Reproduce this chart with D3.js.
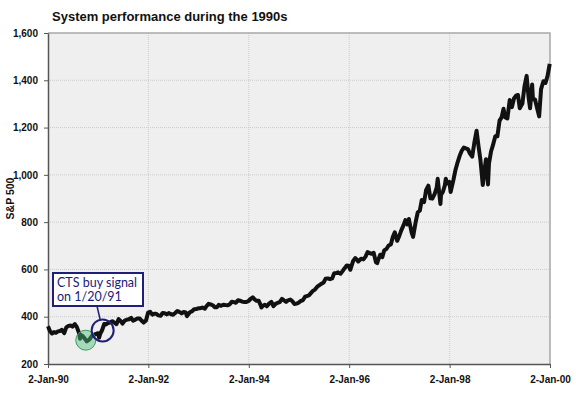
<!DOCTYPE html>
<html>
<head>
<meta charset="utf-8">
<script src="https://cdn.jsdelivr.net/npm/d3@7"></script>
<style>
  body { margin: 0; background: #fff; }
  .axis text { font-family: Arial, "Liberation Sans", sans-serif; font-size: 10px; font-weight: bold; fill: #111; }
  .axis path, .axis line { stroke: #555; }
  .grid line { stroke: #cbcbcb; stroke-dasharray: 1,1; }
</style>
</head>
<body>
<div id="chart"></div>
<script>
// S&P 500 levels (roughly twice a month)
var dates = [
 "1990-01-02","1990-01-15","1990-01-31","1990-02-15","1990-02-28","1990-03-15","1990-03-30","1990-04-13","1990-04-30","1990-05-15","1990-05-31","1990-06-15","1990-06-29","1990-07-16","1990-07-31","1990-08-15","1990-08-23","1990-08-31","1990-09-14","1990-09-28","1990-10-11","1990-10-31","1990-11-15","1990-11-30","1990-12-14","1990-12-31",
 "1991-01-09","1991-01-17","1991-01-31","1991-02-15","1991-02-28","1991-03-15","1991-03-28","1991-04-15","1991-04-30","1991-05-15","1991-05-31","1991-06-14","1991-06-28","1991-07-15","1991-07-31","1991-08-15","1991-08-30","1991-09-13","1991-09-30","1991-10-15","1991-10-31","1991-11-15","1991-11-29","1991-12-16","1991-12-31",
 "1992-01-15","1992-01-31","1992-02-14","1992-02-28","1992-03-13","1992-03-31","1992-04-15","1992-04-30","1992-05-15","1992-05-29","1992-06-15","1992-06-30","1992-07-15","1992-07-31","1992-08-14","1992-08-31","1992-09-15","1992-09-30","1992-10-09","1992-10-30","1992-11-13","1992-11-30","1992-12-15","1992-12-31",
 "1993-01-15","1993-01-29","1993-02-16","1993-02-26","1993-03-15","1993-03-31","1993-04-15","1993-04-30","1993-05-14","1993-05-28","1993-06-15","1993-06-30","1993-07-15","1993-07-30","1993-08-16","1993-08-31","1993-09-15","1993-09-30","1993-10-15","1993-10-29","1993-11-15","1993-11-30","1993-12-15","1993-12-31",
 "1994-01-14","1994-01-31","1994-02-15","1994-02-28","1994-03-15","1994-03-31","1994-04-04","1994-04-15","1994-04-29","1994-05-13","1994-05-31","1994-06-15","1994-06-30","1994-07-15","1994-07-29","1994-08-15","1994-08-31","1994-09-15","1994-09-30","1994-10-14","1994-10-31","1994-11-15","1994-11-30","1994-12-15","1994-12-30",
 "1995-01-13","1995-01-31","1995-02-15","1995-02-28","1995-03-15","1995-03-31","1995-04-13","1995-04-28","1995-05-15","1995-05-31","1995-06-15","1995-06-30","1995-07-14","1995-07-31","1995-08-15","1995-08-31","1995-09-15","1995-09-29","1995-10-13","1995-10-31","1995-11-15","1995-11-30","1995-12-15","1995-12-29",
 "1996-01-10","1996-01-31","1996-02-15","1996-02-29","1996-03-08","1996-03-29","1996-04-15","1996-04-30","1996-05-15","1996-05-31","1996-06-14","1996-06-28","1996-07-15","1996-07-24","1996-07-31","1996-08-15","1996-08-30","1996-09-13","1996-09-30","1996-10-15","1996-10-31","1996-11-15","1996-11-29","1996-12-16","1996-12-31",
 "1997-01-15","1997-01-31","1997-02-14","1997-02-28","1997-03-11","1997-03-31","1997-04-11","1997-04-30","1997-05-15","1997-05-30","1997-06-13","1997-06-30","1997-07-15","1997-07-31","1997-08-15","1997-08-29","1997-09-15","1997-09-30","1997-10-07","1997-10-27","1997-10-31","1997-11-14","1997-11-28","1997-12-05","1997-12-15","1997-12-31",
 "1998-01-09","1998-01-30","1998-02-13","1998-02-27","1998-03-16","1998-03-31","1998-04-15","1998-04-30","1998-05-15","1998-05-29","1998-06-15","1998-06-30","1998-07-17","1998-07-31","1998-08-14","1998-08-31","1998-09-15","1998-09-23","1998-10-08","1998-10-15","1998-10-30","1998-11-13","1998-11-30","1998-12-15","1998-12-31",
 "1999-01-15","1999-01-29","1999-02-09","1999-02-26","1999-03-15","1999-03-31","1999-04-15","1999-04-30","1999-05-14","1999-05-27","1999-06-15","1999-06-30","1999-07-16","1999-07-30","1999-08-10","1999-08-25","1999-08-31","1999-09-15","1999-09-30","1999-10-15","1999-10-29","1999-11-15","1999-11-30","1999-12-15","1999-12-31"
];
var spx = [
 359.7,340.8,329.1,334.9,331.9,338.0,339.9,344.3,330.8,354.8,361.2,362.9,358.0,369.0,356.2,332.4,307.1,322.6,316.8,306.1,295.5,304.0,317.0,322.2,326.8,330.2,
 311.5,327.9,343.9,369.1,367.1,373.6,375.2,381.0,375.3,368.6,389.8,382.3,371.2,384.0,387.8,389.3,395.4,383.6,387.9,392.8,392.5,382.6,375.2,384.0,417.1,
 420.8,408.8,412.5,412.7,405.8,403.7,416.0,415.0,410.0,415.4,410.3,408.1,415.6,424.2,420.3,414.0,419.8,417.8,402.7,418.7,422.4,431.4,432.6,435.7,
 435.9,438.8,433.9,443.4,454.6,451.7,448.4,440.2,439.6,450.2,446.3,450.5,449.2,448.1,452.4,463.6,461.6,458.9,469.5,467.8,463.8,461.8,461.9,466.5,
 474.9,481.6,472.5,467.1,467.4,445.8,438.9,446.2,450.9,444.1,456.5,462.4,444.3,454.2,458.3,461.9,475.5,468.8,462.7,469.1,472.4,465.0,453.7,455.3,459.3,
 465.9,470.4,484.6,487.4,490.0,500.7,509.0,514.7,527.0,533.4,539.8,544.8,560.3,562.1,558.6,561.9,583.4,584.4,587.5,581.5,593.0,605.4,616.3,615.9,
 598.5,636.0,648.0,640.4,633.5,645.5,642.5,654.2,673.0,669.1,665.9,670.6,629.8,626.7,640.0,662.3,652.0,680.5,687.3,701.1,705.3,737.6,757.0,721.0,740.7,
 765.2,786.2,808.5,790.8,813.6,757.1,737.7,801.3,841.9,848.3,893.3,885.1,936.6,954.3,900.8,899.5,919.8,947.3,983.1,877.0,914.6,928.4,955.4,983.8,963.4,970.4,
 927.7,980.3,1020.1,1049.3,1080.5,1101.8,1115.8,1111.8,1108.7,1090.8,1077.0,1133.8,1186.8,1120.7,1062.8,957.3,1029.7,1066.1,959.4,1047.5,1098.7,1125.7,1163.6,1162.8,1229.2,
 1243.3,1279.6,1243.8,1238.3,1316.6,1286.4,1322.9,1335.2,1337.8,1281.4,1301.2,1372.7,1418.8,1328.7,1281.4,1381.8,1320.4,1318.5,1282.7,1247.4,1362.9,1396.0,1388.9,1418.0,1469.3
];
var xTicks = ["1990-01-02","1992-01-02","1994-01-02","1996-01-02","1998-01-02","2000-01-02"];
var yTicks = [200, 400, 600, 800, 1000, 1200, 1400, 1600];
var noteLines = ["CTS buy signal", "on 1/20/91"];

var parseDate = d3.timeParse("%Y-%m-%d");
var data = dates.map(function(d, i){ return {date: parseDate(d), value: spx[i]}; });

var margin = {top: 33, right: 26, bottom: 30, left: 48};
var W = 576, H = 394;
var width = W - margin.left - margin.right;
var height = H - margin.top - margin.bottom;

var svg = d3.select("#chart").append("svg")
    .attr("width", W)
    .attr("height", H);

var g = svg.append("g")
    .attr("transform", "translate(" + margin.left + "," + margin.top + ")");

var x = d3.scaleTime()
    .domain([parseDate(xTicks[0]), parseDate(xTicks[xTicks.length - 1])])
    .range([0, width]);

var y = d3.scaleLinear()
    .domain([200, 1600])
    .range([height, 0]);

// plot background
g.append("rect")
    .attr("width", width)
    .attr("height", height)
    .attr("fill", "#efefef");

// gridlines
g.append("g").attr("class", "grid")
    .selectAll("line").data(yTicks.slice(1, -1)).enter().append("line")
    .attr("x1", 0).attr("x2", width)
    .attr("y1", function(d){ return y(d); })
    .attr("y2", function(d){ return y(d); });

g.append("g").attr("class", "grid")
    .selectAll("line").data(xTicks.slice(1, -1)).enter().append("line")
    .attr("y1", 0).attr("y2", height)
    .attr("x1", function(d){ return x(parseDate(d)); })
    .attr("x2", function(d){ return x(parseDate(d)); });

// top / right frame
g.append("path")
    .attr("d", "M0,0H" + width + "V" + height)
    .attr("fill", "none")
    .attr("stroke", "#a8a8a8")
    .attr("stroke-width", 1.5);

var xAxis = d3.axisBottom(x)
    .tickValues(xTicks.map(parseDate))
    .tickFormat(d3.timeFormat("%-d-%b-%y"))
    .tickSizeInner(4)
    .tickSizeOuter(0);

var yAxis = d3.axisLeft(y)
    .tickValues(yTicks)
    .tickFormat(d3.format(","))
    .tickSizeInner(4)
    .tickSizeOuter(0);

g.append("g")
    .attr("class", "x axis")
    .attr("transform", "translate(0," + height + ")")
    .call(xAxis)
    .selectAll("text").attr("dy", "1.2em");

g.append("g")
    .attr("class", "y axis")
    .call(yAxis)
    .selectAll("text").attr("dx", "-0.3em");

g.selectAll(".axis path").attr("stroke-width", 1.5);

// price line
var line = d3.line()
    .x(function(d){ return x(d.date); })
    .y(function(d){ return y(d.value); });

g.append("path")
    .datum(data)
    .attr("d", line)
    .attr("fill", "none")
    .attr("stroke", "#111")
    .attr("stroke-width", 4)
    .attr("stroke-linejoin", "round");

// markers
var lowDate = parseDate("1990-10-11");
var sigDate = parseDate("1991-01-20");

g.append("circle")
    .attr("cx", x(lowDate) - 1)
    .attr("cy", y(305) + 1)
    .attr("r", 10)
    .attr("fill", "#4cbf7a")
    .attr("fill-opacity", 0.45)
    .attr("stroke", "#3a9a5e")
    .attr("stroke-width", 1);

g.append("circle")
    .attr("cx", x(sigDate) + 2)
    .attr("cy", y(342))
    .attr("r", 11)
    .attr("fill", "none")
    .attr("stroke", "#1f1f7a")
    .attr("stroke-width", 2);

// annotation
g.append("line")
    .attr("x1", 49).attr("y1", 273)
    .attr("x2", 52).attr("y2", 286)
    .attr("stroke", "#1f1f7a")
    .attr("stroke-width", 1.5);

g.append("rect")
    .attr("x", 5).attr("y", 240)
    .attr("width", 90).attr("height", 33)
    .attr("fill", "#fff")
    .attr("stroke", "#1f1f7a")
    .attr("stroke-width", 2);

g.selectAll(".note").data(noteLines).enter().append("text")
    .attr("class", "note")
    .attr("x", 9)
    .attr("y", function(d, i){ return 254 + i * 14; })
    .attr("font-family", "Lato, 'Open Sans', sans-serif")
    .attr("font-size", 12.5)
    .attr("fill", "#1a1a78")
    .text(function(d){ return d; });

// titles
svg.append("text")
    .attr("x", 52).attr("y", 21)
    .attr("font-family", "Arial, 'Liberation Sans', sans-serif")
    .attr("font-size", 13)
    .attr("font-weight", "bold")
    .attr("fill", "#111")
    .text("System performance during the 1990s");

svg.append("text")
    .attr("transform", "translate(14," + (margin.top + height / 2) + ") rotate(-90)")
    .attr("text-anchor", "middle")
    .attr("font-family", "Arial, 'Liberation Sans', sans-serif")
    .attr("font-size", 10.5)
    .attr("font-weight", "bold")
    .attr("fill", "#111")
    .text("S&P 500");
</script>
</body>
</html>
